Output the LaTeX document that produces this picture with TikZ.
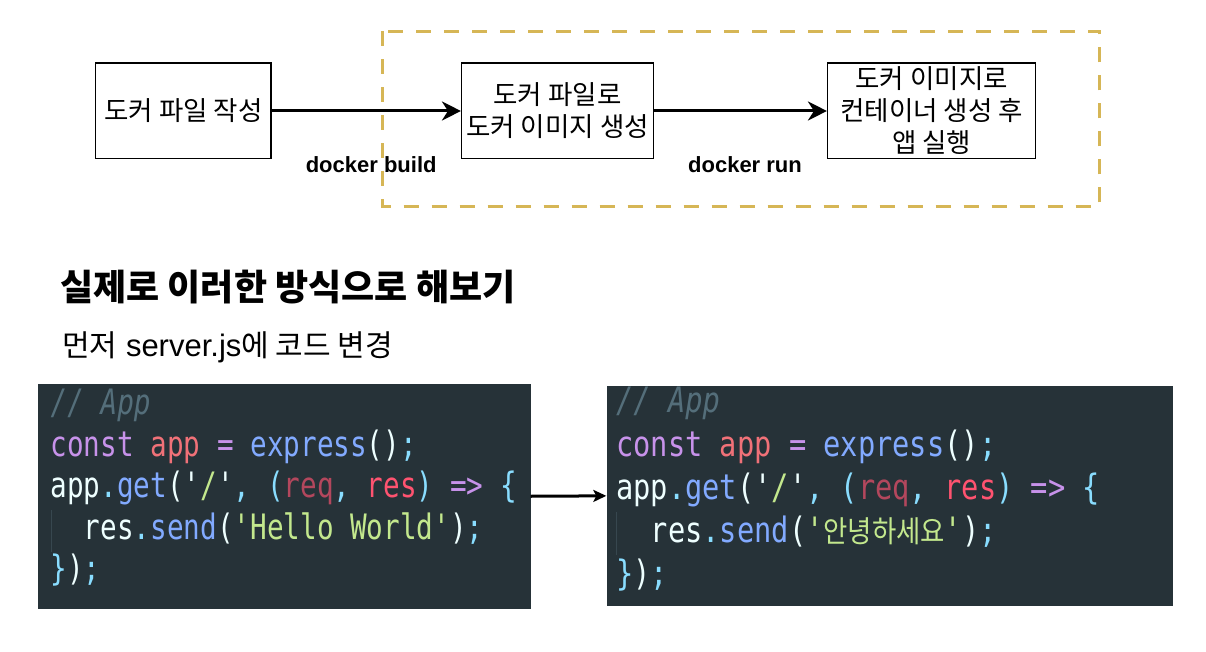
\documentclass[tikz,border=0pt]{standalone}
\usepackage{fontspec}
\usetikzlibrary{arrows.meta}
\setmainfont{Liberation Sans}
\newfontfamily\krfont{Noto Sans CJK KR}
\newfontfamily\krcodefont{Noto Sans CJK KR}[FakeStretch=0.88]
\newfontfamily\codeAfont{DejaVu Sans Mono}[FakeStretch=0.79,Ligatures=TeXOff]
\newfontfamily\codeBfont{DejaVu Sans Mono}[FakeStretch=0.82,Ligatures=TeXOff]
\definecolor{cbg}{HTML}{263238}
\definecolor{ccom}{HTML}{546E7A}
\definecolor{cpur}{HTML}{C792EA}
\definecolor{cred}{HTML}{F07178}
\definecolor{cblu}{HTML}{82AAFF}
\definecolor{cwht}{HTML}{EEFFFF}
\definecolor{ccya}{HTML}{89DDFF}
\definecolor{cgrn}{HTML}{C3E88D}
\definecolor{creq}{HTML}{B3475D}
\definecolor{cres}{HTML}{FF5370}
\definecolor{cguide}{HTML}{37474F}
\definecolor{cdash}{HTML}{D6B656}
\newcommand\kol[2]{\textcolor{#1}{#2}}
\begin{document}
\begin{tikzpicture}[x=1pt,y=-1pt,
  flowbox/.style={draw=black,line width=1.5pt,fill=white,inner sep=0pt,minimum height=95.5pt,
    align=center,font=\krfont\fontsize{26.5}{32}\selectfont},
  flowarrow/.style={line width=3pt,-{Stealth[length=19pt,width=19pt,inset=6pt]}},
  steplabel/.style={font=\bfseries\fontsize{22}{22}\selectfont,inner sep=0pt,anchor=base},
  dashbox/.style={draw=cdash,line width=3.5pt,dash pattern=on 15pt off 13pt},
  codebg/.style={fill=cbg,draw=none,inner sep=0pt},
  codeA/.style={inner sep=0pt,anchor=base west,text=cwht,font=\codeAfont\fontsize{35}{35}\selectfont},
  codeB/.style={inner sep=0pt,anchor=base west,text=cwht,font=\codeBfont\fontsize{35}{35}\selectfont},
  guide/.style={draw=cguide,line width=1pt},
  codearrow/.style={line width=3pt,-{Stealth[length=13pt,width=12pt,inset=3pt]}}
]
\useasboundingbox (0,0) rectangle (1206,652);
\fill[white] (0,0) rectangle (1206,652);

% dashed group
\draw[dashbox] (382.5,31.5) rectangle (1099.5,206.5);

% flow boxes
\node[flowbox,minimum width=175.5pt] (b1) at (183.4,111) {도커 파일 작성};
\node[flowbox,minimum width=191.6pt] (b2) at (557.5,111) {도커 파일로\\도커 이미지 생성};
\node[flowbox,minimum width=208pt] (b3) at (931.7,111) {도커 이미지로\\컨테이너 생성 후\\앱 실행};

\draw[flowarrow] (b1.east) -- (b2.west);
\draw[flowarrow] (b2.east) -- (b3.west);

\node[steplabel] (l1) at (371.2,172.7) {docker build};
\node[steplabel] (l2) at (745,172.7) {docker run};

% headings
\node[anchor=base west,inner sep=0pt,font=\krfont\bfseries\fontsize{36}{36}\selectfont] (h1) at (60,300.5) {실제로 이러한 방식으로 해보기};
\node[anchor=base west,inner sep=0pt,font=\fontsize{31}{31}\selectfont] (h2) at (62,356) {{\krfont\fontsize{30}{30}\selectfont 먼저} server.js{\krfont\fontsize{30}{30}\selectfont 에 코드 변경}};

% code boxes
\node[codebg,minimum width=493pt,minimum height=224.5pt] (codeA) at (284,496.25) {};
\node[codebg,minimum width=566pt,minimum height=219.7pt] (codeB) at (889.5,495.85) {};

\draw[guide] (51,510) -- (51,552);
\draw[guide] (616,512) -- (616,555);

% code A
\node[codeA] (a1) at (50.5,414) {\kol{ccom}{\itshape // App}};
\node[codeA] (a2) at (50.5,456) {\kol{cpur}{const} \kol{cred}{app} \kol{cpur}{=} \kol{cblu}{express}\kol{cwht}{()}\kol{ccya}{;}};
\node[codeA] (a3) at (50.5,497.5) {\kol{cwht}{app}\kol{ccya}{.}\kol{cblu}{get}\kol{cwht}{(}\kol{cwht}{'}\kol{cgrn}{/}\kol{cwht}{'}\kol{ccya}{,} \kol{ccya}{(}\kol{creq}{req}\kol{ccya}{,} \kol{cres}{res}\kol{ccya}{)} \kol{cpur}{=>} \kol{ccya}{\{}};
\node[codeA] (a4) at (50.5,539) {\phantom{xx}\kol{cwht}{res}\kol{ccya}{.}\kol{cblu}{send}\kol{cwht}{(}\kol{cgrn}{'Hello World'}\kol{cwht}{)}\kol{ccya}{;}};
\node[codeA] (a5) at (50.5,580.5) {\kol{ccya}{\}}\kol{cwht}{)}\kol{ccya}{;}};

% code B
\node[codeB] (c1) at (616,412.5) {\kol{ccom}{\itshape // App}};
\node[codeB] (c2) at (616,456) {\kol{cpur}{const} \kol{cred}{app} \kol{cpur}{=} \kol{cblu}{express}\kol{cwht}{()}\kol{ccya}{;}};
\node[codeB] (c3) at (616,499) {\kol{cwht}{app}\kol{ccya}{.}\kol{cblu}{get}\kol{cwht}{(}\kol{cwht}{'}\kol{cgrn}{/}\kol{cwht}{'}\kol{ccya}{,} \kol{ccya}{(}\kol{creq}{req}\kol{ccya}{,} \kol{cres}{res}\kol{ccya}{)} \kol{cpur}{=>} \kol{ccya}{\{}};
\node[codeB] (c4) at (616,542) {\phantom{xx}\kol{cwht}{res}\kol{ccya}{.}\kol{cblu}{send}\kol{cwht}{(}\kol{cgrn}{'{\krcodefont\fontsize{30}{30}\selectfont 안녕하세요}'}\kol{cwht}{)}\kol{ccya}{;}};
\node[codeB] (c5) at (616,585) {\kol{ccya}{\}}\kol{cwht}{)}\kol{ccya}{;}};

\draw[codearrow] (codeA.east) -- (codeB.west);
\end{tikzpicture}
\end{document}
